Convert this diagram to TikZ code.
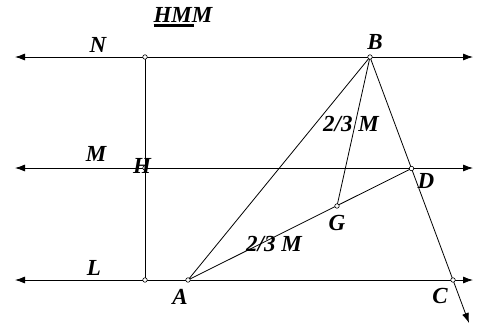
\documentclass[tikz,border=0pt]{standalone}
\usepackage{fontspec}
\setmainfont{Liberation Serif}
\usetikzlibrary{arrows.meta}

\begin{document}
\begin{tikzpicture}[
      x=1pt,y=-1pt,
      ray/.style={-{Latex[length=10pt,width=7pt]},draw=black,line width=.8pt},
      both/.style={{Latex[length=10pt,width=7pt]}-{Latex[length=10pt,width=7pt]},draw=black,line width=.8pt},
      seg/.style={draw=black,line width=.8pt},
      pt/.style={circle,draw=black,fill=white,inner sep=0pt,minimum size=4.5pt,line width=.6pt},
      lbl/.style={font=\fontsize{23}{26}\selectfont\bfseries\itshape,inner sep=0pt}]
    \useasboundingbox (0,0) rectangle (477,325);
    % the three parallels
    \coordinate (nl) at (15,57);  \coordinate (nr) at (473,57);
    \coordinate (ml) at (15,168); \coordinate (mr) at (473,168);
    \coordinate (ll) at (15,280); \coordinate (lr) at (473,280);
    % points of the figure
    \coordinate (hn) at (145,57);
    \coordinate (hm) at (145,168);
    \coordinate (hl) at (145,280);
    \coordinate (a) at (188,280);
    \coordinate (b) at (370,57);
    \coordinate (c) at (453,280);
    \coordinate (d) at (411.5,168.5);
    \coordinate (g) at (337,206);
    \coordinate (e) at (469,323);

    \draw[both] (nl) -- (nr);
    \draw[both] (ml) -- (mr);
    \draw[both] (ll) -- (lr);
    \draw[seg] (hn) -- (hl);
    \draw[seg] (b) -- (a);
    \draw[seg] (b) -- (g);
    \draw[seg] (a) -- (d);
    \draw[ray] (b) -- (e);

    \node[pt] (phn) at (hn) {};
    \node[pt] (phm) at (hm) {};
    \node[pt] (phl) at (hl) {};
    \node[pt] (pa) at (a) {};
    \node[pt] (pb) at (b) {};
    \node[pt] (pc) at (c) {};
    \node[pt] (pd) at (d) {};
    \node[pt] (pg) at (g) {};

    \node[lbl] (ttl) at (183,17) {\rlap{\rule[-5pt]{40pt}{2.8pt}}HMM};
    \node[lbl] (tn) at (98,45) {N};
    \node[lbl] (tm) at (96,154) {M};
    \node[lbl] (tl) at (94,268) {L};
    \node[lbl] (th) at (142,166) {H};
    \node[lbl] (ta) at (180,297) {A};
    \node[lbl] (tb) at (375,42) {B};
    \node[lbl] (tc) at (440,296) {C};
    \node[lbl] (td) at (426,181) {D};
    \node[lbl] (tg) at (337,223) {G};
    \node[lbl] (tbg) at (351,124) {2/3 M};
    \node[lbl] (tag) at (274,244) {2/3 M};
  \end{tikzpicture}
\end{document}
